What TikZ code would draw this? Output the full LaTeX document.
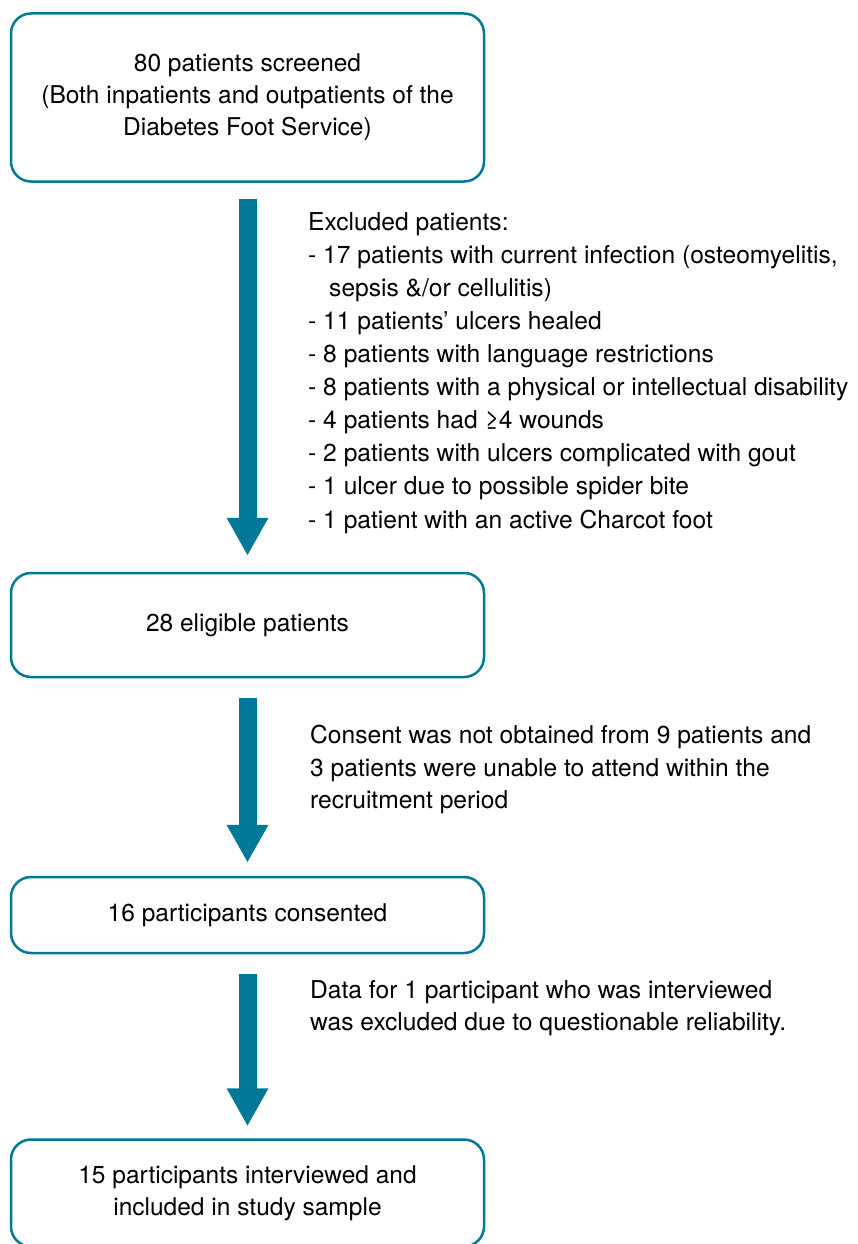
\documentclass[tikz,border=0pt]{standalone}
\usepackage{fontspec}
\setmainfont{TeX Gyre Heros}
\usepackage{xcolor}
\usepackage{tikz}
\usetikzlibrary{arrows.meta,calc}
\definecolor{flowteal}{RGB}{0,121,152}

\begin{document}
\begin{tikzpicture}[x=1pt, y=-1pt, font=\fontsize{24.6pt}{32.5pt}\selectfont,
  box/.style={draw=flowteal, line width=2.5pt, rounded corners=20pt, align=center, minimum width=473pt, inner sep=0pt, font=\fontsize{24.5pt}{32pt}\selectfont},
  flow/.style={draw=flowteal, line width=18pt, -{Triangle[width=39pt, length=38pt]}},
  note/.style={anchor=north west, align=left, inner sep=0pt}]
\useasboundingbox (0,0) rectangle (857,1244);
\node[box, minimum height=168pt] (screen) at (247.5,97.5) {80 patients screened\\ (Both inpatients and outpatients of the\\ Diabetes Foot Service)};
\node[box, minimum height=104pt] (elig)   at (247.5,625)  {28 eligible patients};
\node[box, minimum height=76pt]  (cons)   at (247.5,915)  {16 participants consented};
\node[box, minimum height=107pt] (incl)   at (247.5,1193) {15 participants interviewed and\\ included in study sample};
\node[note, font=\fontsize{24.6pt}{33.1pt}\selectfont] (excl) at (308,212) {Excluded patients:\\
  - 17 patients with current infection (osteomyelitis,\\
  \hspace*{21pt}sepsis \&/or cellulitis)\\
  - 11 patients’ ulcers healed\\
  - 8 patients with language restrictions\\
  - 8 patients with a physical or intellectual disability\\
  - 4 patients had ≥4 wounds\\
  - 2 patients with ulcers complicated with gout\\
  - 1 ulcer due to possible spider bite\\
  - 1 patient with an active Charcot foot};
\node[note] (nocons) at (310,725) {Consent was not obtained from 9 patients and\\ 3 patients were unable to attend within the\\ recruitment period};
\node[note] (drop)   at (310,980) {Data for 1 participant who was interviewed\\ was excluded due to questionable reliability.};
\draw[flow] ([yshift=-16pt]screen.south) -- ([yshift=16pt]elig.north);
\draw[flow] ([yshift=-20pt]elig.south) -- ([yshift=13pt]cons.north);
\draw[flow] ([yshift=-20pt]cons.south) -- ([yshift=12pt]incl.north);
\end{tikzpicture}
\end{document}
